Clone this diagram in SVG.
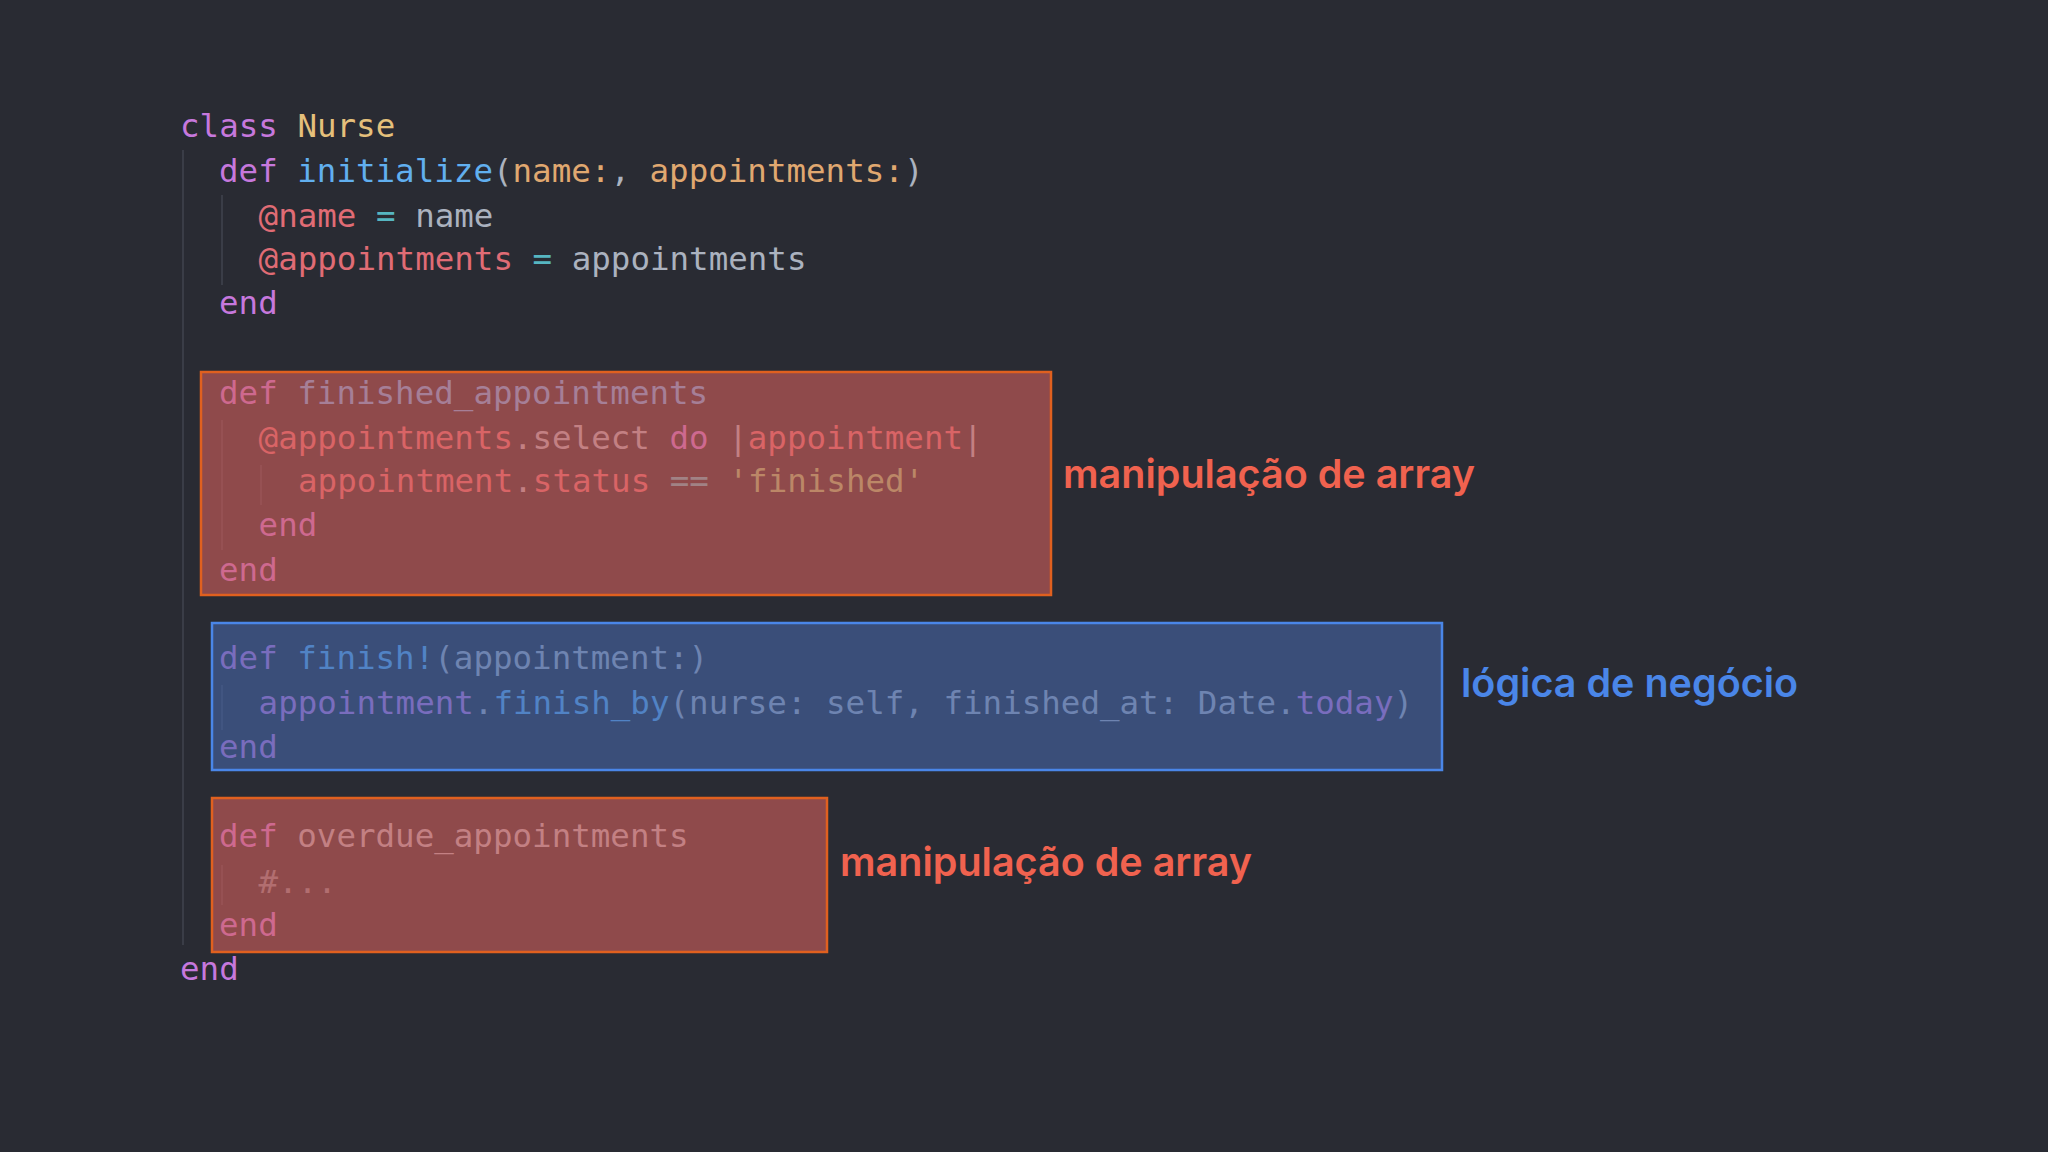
<svg xmlns="http://www.w3.org/2000/svg" width="2048" height="1152" viewBox="0 0 2048 1152">
<style>
.c{font-family:"DejaVu Sans Mono","Liberation Mono",monospace;font-size:32.5px;fill:#abb2bf}
.k{fill:#c678dd}.y{fill:#e5c07b}.f{fill:#61afef}.p{fill:#e0a870}.v{fill:#e06c75}.o{fill:#56b6c2}.s{fill:#98c379}.g{fill:#7f848e}
.lbl{font-family:Inter,"Noto Sans",sans-serif;font-weight:600;font-size:39.5px}
.guide{stroke:#3a3d47;stroke-width:2}
</style>
<rect width="2048" height="1152" fill="#292b33"/>
<g id="guides">
<line class="guide" x1="183" y1="150" x2="183" y2="945"/>
<line class="guide" x1="222" y1="195" x2="222" y2="285"/>
<line class="guide" x1="222" y1="420" x2="222" y2="550"/>
<line class="guide" x1="261" y1="465" x2="261" y2="505"/>
<line class="guide" x1="222" y1="685" x2="222" y2="730"/>
<line class="guide" x1="222" y1="865" x2="222" y2="905"/>
</g>
<g id="code" transform="translate(0,1.5)">
<text class="c" x="180" y="135"><tspan class="k">class</tspan> <tspan class="y">Nurse</tspan></text>
<text class="c" x="219" y="180"><tspan class="k">def</tspan> <tspan class="f">initialize</tspan>(<tspan class="p">name:</tspan>, <tspan class="p">appointments:</tspan>)</text>
<text class="c" x="258.6" y="225"><tspan class="v">@name</tspan> <tspan class="o">=</tspan> name</text>
<text class="c" x="258.6" y="268"><tspan class="v">@appointments</tspan> <tspan class="o">=</tspan> appointments</text>
<text class="c" x="219" y="312"><tspan class="k">end</tspan></text>
<text class="c" x="219" y="402"><tspan class="k">def</tspan> <tspan class="f">finished_appointments</tspan></text>
<text class="c" x="258.6" y="447"><tspan class="v">@appointments</tspan>.select <tspan class="k">do</tspan> |<tspan class="v">appointment</tspan>|</text>
<text class="c" x="298" y="490"><tspan class="v">appointment</tspan>.<tspan class="v">status</tspan> <tspan class="o">==</tspan> <tspan class="s">'finished'</tspan></text>
<text class="c" x="258.6" y="534"><tspan class="k">end</tspan></text>
<text class="c" x="219" y="579"><tspan class="k">end</tspan></text>
<text class="c" x="219" y="667"><tspan class="k">def</tspan> <tspan class="f">finish!</tspan>(appointment:)</text>
<text class="c" x="258.6" y="712"><tspan class="k">appointment</tspan>.<tspan class="f">finish_by</tspan>(nurse: self, finished_at: Date.<tspan class="k">today</tspan>)</text>
<text class="c" x="219" y="756"><tspan class="k">end</tspan></text>
<text class="c" x="219" y="845"><tspan class="k">def</tspan> overdue_appointments</text>
<text class="c" x="258.6" y="891"><tspan class="g">#...</tspan></text>
<text class="c" x="219" y="934"><tspan class="k">end</tspan></text>
<text class="c" x="180" y="978"><tspan class="k">end</tspan></text>
</g>
<g id="box-finished">
<rect x="201" y="372" width="850" height="223" fill="#d45f5b" fill-opacity="0.6" stroke="#e0601f" stroke-width="2.5"/>
<text class="lbl" x="1063" y="488" fill="#f0624f">manipulação de array</text>
</g>
<g id="box-finish">
<rect x="212" y="623" width="1230" height="147" fill="#4666a9" fill-opacity="0.6" stroke="#4a86e8" stroke-width="2.5"/>
<text class="lbl" x="1461" y="697" fill="#4a86e8">lógica de negócio</text>
</g>
<g id="box-overdue">
<rect x="212" y="798" width="615" height="154" fill="#d45f5b" fill-opacity="0.6" stroke="#e0601f" stroke-width="2.5"/>
<text class="lbl" x="840" y="876" fill="#f0624f">manipulação de array</text>
</g>
</svg>
